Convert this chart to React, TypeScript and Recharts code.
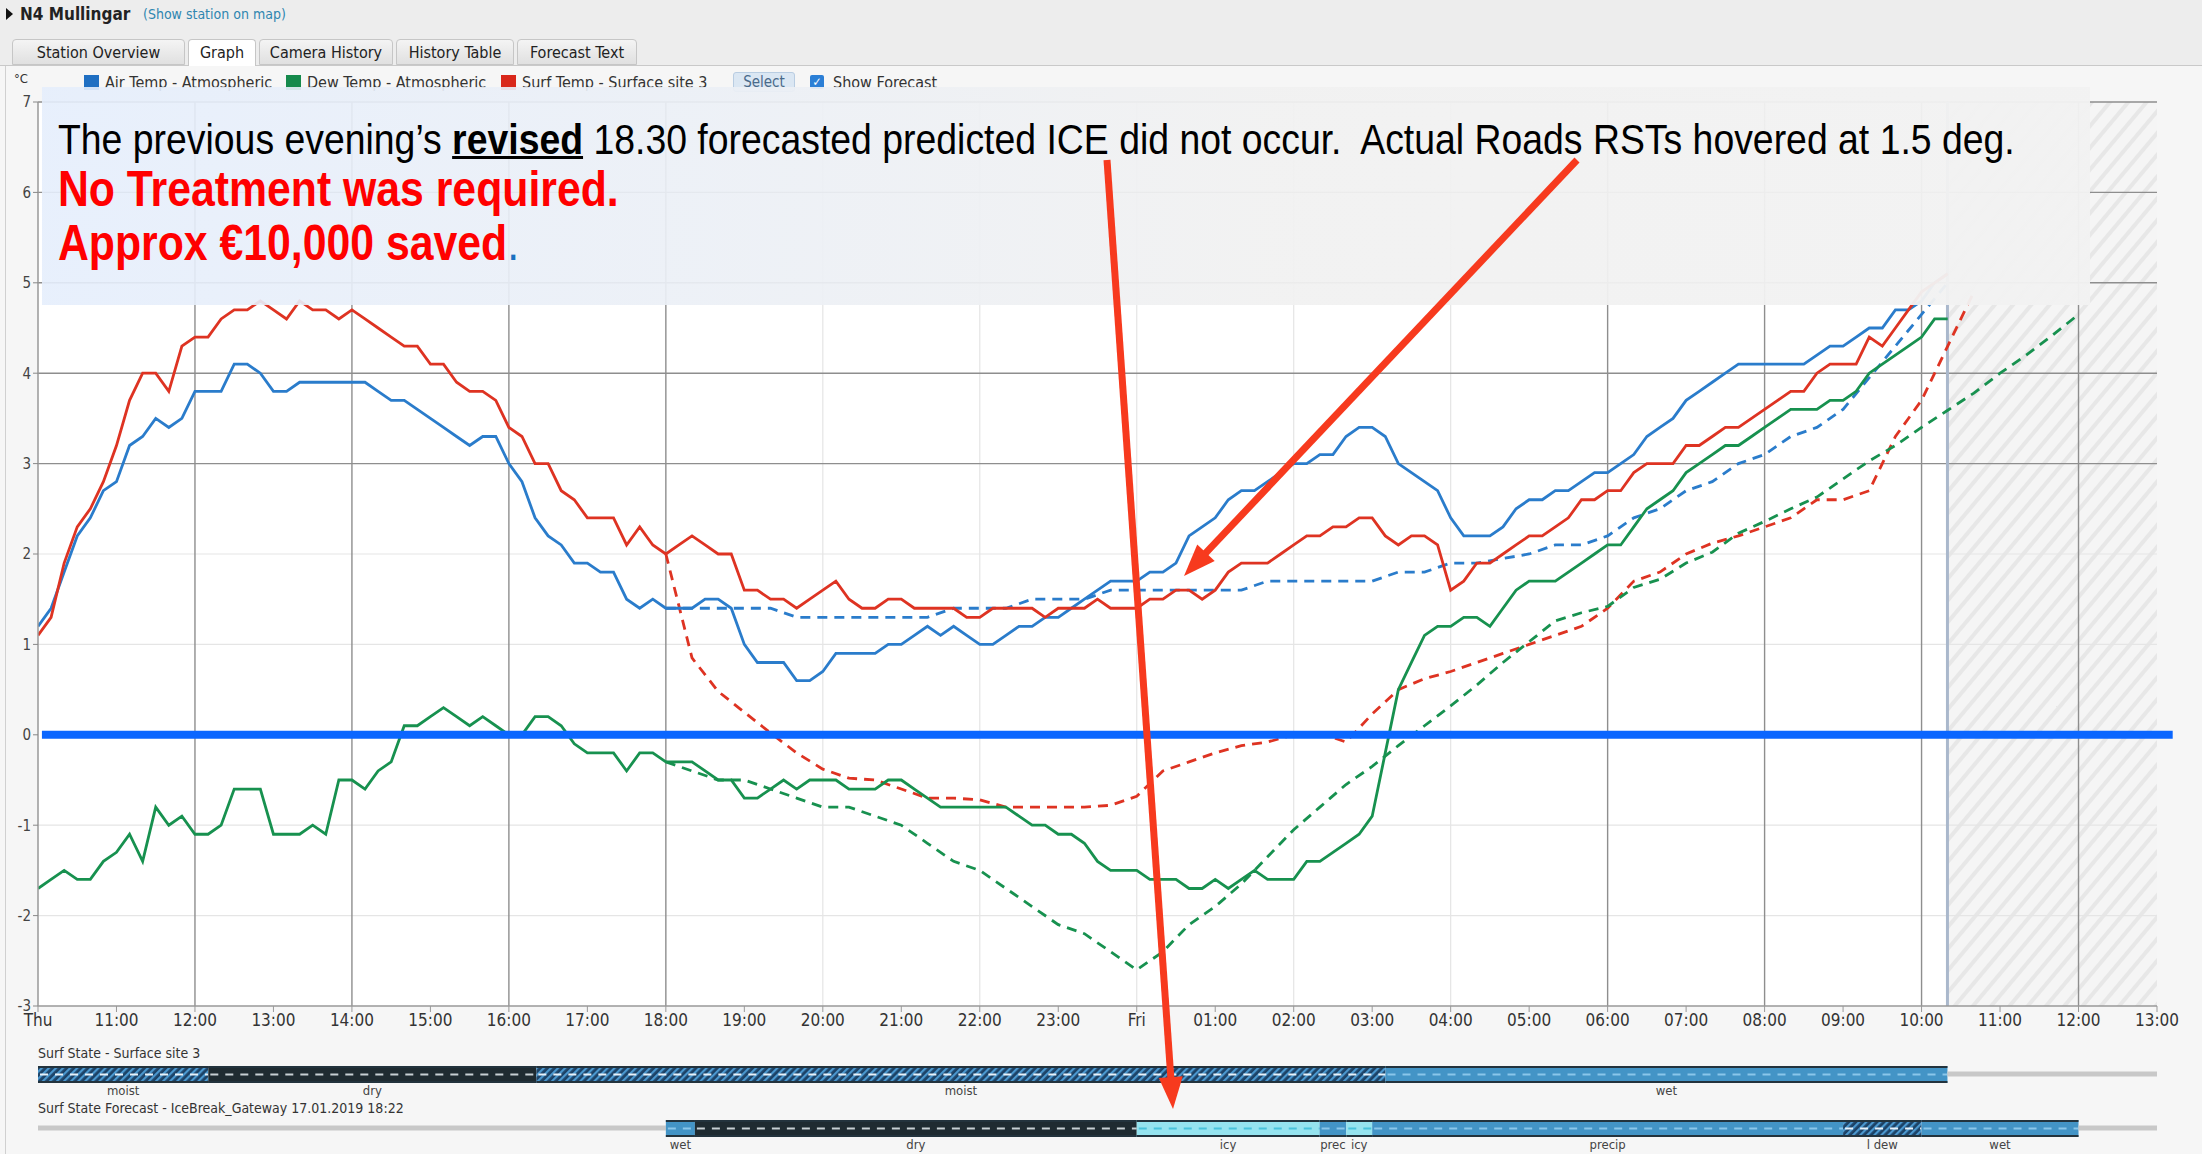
import React from 'react';
import {
  LineChart,
  Line,
  XAxis,
  YAxis,
  CartesianGrid,
  ReferenceLine,
  ReferenceArea,
  BarChart,
  Bar,
  LabelList,
} from 'recharts';

const W = 2202;
const H = 1154;
const UI_FONT = '"Liberation Sans Narrow", "DejaVu Sans Condensed", "Liberation Sans", Arial, sans-serif';
const NOTE_FONT = '"Liberation Sans", Arial, sans-serif';

const BLUE = '#2a7ccb';
const GREEN = '#17914f';
const RED = '#de3322';

// x axis: hours since Thu 10:00
const HOUR_LABELS = [
  'Thu', '11:00', '12:00', '13:00', '14:00', '15:00', '16:00', '17:00', '18:00', '19:00',
  '20:00', '21:00', '22:00', '23:00', 'Fri', '01:00', '02:00', '03:00', '04:00', '05:00',
  '06:00', '07:00', '08:00', '09:00', '10:00', '11:00', '12:00', '13:00',
];
const HOUR_TICKS = HOUR_LABELS.map((_, i) => i);
const Y_TICKS = [-3, -2, -1, 0, 1, 2, 3, 4, 5, 6, 7];
const DARK_V = [2, 4, 6, 8, 20, 22, 24, 26];
const LIGHT_V = [10, 12, 14, 16, 18];
const DARK_H = [3, 4, 5, 6, 7];
const LIGHT_H = [-2, -1, 1, 2];
const OBS_END = 24.33; // last observation 10:20 Fri

// observations every 10 min from Thu 10:00 to Fri 10:20
const AIR_TEMP = [
  1.2, 1.4, 1.8, 2.2, 2.4, 2.7,
  2.8, 3.2, 3.3, 3.5, 3.4, 3.5,
  3.8, 3.8, 3.8, 4.1, 4.1, 4.0,
  3.8, 3.8, 3.9, 3.9, 3.9, 3.9,
  3.9, 3.9, 3.8, 3.7, 3.7, 3.6,
  3.5, 3.4, 3.3, 3.2, 3.3, 3.3,
  3.0, 2.8, 2.4, 2.2, 2.1, 1.9,
  1.9, 1.8, 1.8, 1.5, 1.4, 1.5,
  1.4, 1.4, 1.4, 1.5, 1.5, 1.4,
  1.0, 0.8, 0.8, 0.8, 0.6, 0.6,
  0.7, 0.9, 0.9, 0.9, 0.9, 1.0,
  1.0, 1.1, 1.2, 1.1, 1.2, 1.1,
  1.0, 1.0, 1.1, 1.2, 1.2, 1.3,
  1.3, 1.4, 1.5, 1.6, 1.7, 1.7,
  1.7, 1.8, 1.8, 1.9, 2.2, 2.3,
  2.4, 2.6, 2.7, 2.7, 2.8, 2.9,
  3.0, 3.0, 3.1, 3.1, 3.3, 3.4,
  3.4, 3.3, 3.0, 2.9, 2.8, 2.7,
  2.4, 2.2, 2.2, 2.2, 2.3, 2.5,
  2.6, 2.6, 2.7, 2.7, 2.8, 2.9,
  2.9, 3.0, 3.1, 3.3, 3.4, 3.5,
  3.7, 3.8, 3.9, 4.0, 4.1, 4.1,
  4.1, 4.1, 4.1, 4.1, 4.2, 4.3,
  4.3, 4.4, 4.5, 4.5, 4.7, 4.7,
  4.8, 5.0, 5.1,
];

const DEW_TEMP = [
  -1.7, -1.6, -1.5, -1.6, -1.6, -1.4,
  -1.3, -1.1, -1.4, -0.8, -1.0, -0.9,
  -1.1, -1.1, -1.0, -0.6, -0.6, -0.6,
  -1.1, -1.1, -1.1, -1.0, -1.1, -0.5,
  -0.5, -0.6, -0.4, -0.3, 0.1, 0.1,
  0.2, 0.3, 0.2, 0.1, 0.2, 0.1,
  0.0, 0.0, 0.2, 0.2, 0.1, -0.1,
  -0.2, -0.2, -0.2, -0.4, -0.2, -0.2,
  -0.3, -0.3, -0.3, -0.4, -0.5, -0.5,
  -0.7, -0.7, -0.6, -0.5, -0.6, -0.5,
  -0.5, -0.5, -0.6, -0.6, -0.6, -0.5,
  -0.5, -0.6, -0.7, -0.8, -0.8, -0.8,
  -0.8, -0.8, -0.8, -0.9, -1.0, -1.0,
  -1.1, -1.1, -1.2, -1.4, -1.5, -1.5,
  -1.5, -1.6, -1.6, -1.6, -1.7, -1.7,
  -1.6, -1.7, -1.6, -1.5, -1.6, -1.6,
  -1.6, -1.4, -1.4, -1.3, -1.2, -1.1,
  -0.9, -0.2, 0.5, 0.8, 1.1, 1.2,
  1.2, 1.3, 1.3, 1.2, 1.4, 1.6,
  1.7, 1.7, 1.7, 1.8, 1.9, 2.0,
  2.1, 2.1, 2.3, 2.5, 2.6, 2.7,
  2.9, 3.0, 3.1, 3.2, 3.2, 3.3,
  3.4, 3.5, 3.6, 3.6, 3.6, 3.7,
  3.7, 3.8, 4.0, 4.1, 4.2, 4.3,
  4.4, 4.6, 4.6,
];

const SURF_TEMP = [
  1.1, 1.3, 1.9, 2.3, 2.5, 2.8,
  3.2, 3.7, 4.0, 4.0, 3.8, 4.3,
  4.4, 4.4, 4.6, 4.7, 4.7, 4.8,
  4.7, 4.6, 4.8, 4.7, 4.7, 4.6,
  4.7, 4.6, 4.5, 4.4, 4.3, 4.3,
  4.1, 4.1, 3.9, 3.8, 3.8, 3.7,
  3.4, 3.3, 3.0, 3.0, 2.7, 2.6,
  2.4, 2.4, 2.4, 2.1, 2.3, 2.1,
  2.0, 2.1, 2.2, 2.1, 2.0, 2.0,
  1.6, 1.6, 1.5, 1.5, 1.4, 1.5,
  1.6, 1.7, 1.5, 1.4, 1.4, 1.5,
  1.5, 1.4, 1.4, 1.4, 1.4, 1.3,
  1.3, 1.4, 1.4, 1.4, 1.4, 1.3,
  1.4, 1.4, 1.4, 1.5, 1.4, 1.4,
  1.4, 1.5, 1.5, 1.6, 1.6, 1.5,
  1.6, 1.8, 1.9, 1.9, 1.9, 2.0,
  2.1, 2.2, 2.2, 2.3, 2.3, 2.4,
  2.4, 2.2, 2.1, 2.2, 2.2, 2.1,
  1.6, 1.7, 1.9, 1.9, 2.0, 2.1,
  2.2, 2.2, 2.3, 2.4, 2.6, 2.6,
  2.7, 2.7, 2.9, 3.0, 3.0, 3.0,
  3.2, 3.2, 3.3, 3.4, 3.4, 3.5,
  3.6, 3.7, 3.8, 3.8, 4.0, 4.1,
  4.1, 4.1, 4.4, 4.3, 4.5, 4.7,
  4.9, 5.0, 5.1,
];

// forecasts every 20 min from Thu 18:00
const AIR_FORECAST = [
  1.4, 1.4, 1.4, 1.4, 1.4, 1.3,
  1.3, 1.3, 1.3, 1.3, 1.3, 1.4,
  1.4, 1.4, 1.5, 1.5, 1.5, 1.6,
  1.6, 1.6, 1.6, 1.6, 1.6, 1.7,
  1.7, 1.7, 1.7, 1.7, 1.8, 1.8,
  1.9, 1.9, 1.95, 2.0, 2.1, 2.1,
  2.2, 2.4, 2.5, 2.7, 2.8, 3.0,
  3.1, 3.3, 3.4, 3.6, 3.95, 4.3,
  4.65, 5.0,
];

const DEW_FORECAST = [
  -0.3, -0.4, -0.5, -0.5, -0.6, -0.7,
  -0.8, -0.8, -0.9, -1.0, -1.2, -1.4,
  -1.5, -1.7, -1.9, -2.1, -2.2, -2.4,
  -2.6, -2.4, -2.1, -1.9, -1.65, -1.35,
  -1.05, -0.8, -0.55, -0.35, -0.12, 0.1,
  0.32, 0.55, 0.8, 1.03, 1.26, 1.35,
  1.42, 1.63, 1.72, 1.9, 2.02, 2.23,
  2.36, 2.5, 2.63, 2.83, 3.03, 3.2,
  3.4, 3.59, 3.78, 4.0, 4.2, 4.42,
  4.65,
];

const SURF_FORECAST = [
  2.0, 0.85, 0.48, 0.25, 0.02, -0.2,
  -0.38, -0.48, -0.5, -0.6, -0.7, -0.7,
  -0.72, -0.8, -0.8, -0.8, -0.8, -0.78,
  -0.68, -0.4, -0.3, -0.2, -0.12, -0.08,
  0.0, 0.02, -0.08, 0.23, 0.5, 0.62,
  0.7, 0.8, 0.9, 1.0, 1.1, 1.2,
  1.4, 1.7, 1.8, 2.0, 2.12, 2.2,
  2.3, 2.4, 2.6, 2.6, 2.7, 3.3,
  3.7, 4.3, 4.9,
];

// surface state strips: change times (hours since Thu 10:00) and states
const SURF_STATE_BREAKS = [0, 2.17, 6.35, 17.17, 24.33, 27];
const SURF_STATE_KINDS = ['moist', 'dry', 'moist', 'wet', 'none'];
const SURF_STATE_LABELS = ['moist', 'dry', 'moist', 'wet', ''];

const FC_STATE_BREAKS = [0, 8, 8.37, 14, 16.33, 16.67, 17, 23, 24, 26, 27];
const FC_STATE_KINDS = ['none', 'wet', 'dry', 'icy', 'wet', 'icy', 'wet', 'dew', 'wet', 'none'];
const FC_STATE_LABELS = ['', 'wet', 'dry', 'icy', 'prec', 'icy', 'precip', 'l dew', 'wet', ''];

const LEGEND = [
  { label: 'Air Temp - Atmospheric', color: '#1f6fc2' },
  { label: 'Dew Temp - Atmospheric', color: '#168a4c' },
  { label: 'Surf Temp - Surface site 3', color: '#d9271a' },
];
const LEGEND_LEFT = [84, 286, 501];
const TABS = ['Station Overview', 'Graph', 'Camera History', 'History Table', 'Forecast Text'];
const TAB_WIDTHS = [173, 68, 134, 118, 120];

type Row = { h: number; [k: string]: number };
const rowMap = new Map<number, Row>();
const getRow = (k: number) => {
  if (!rowMap.has(k)) rowMap.set(k, { h: k / 6 });
  return rowMap.get(k)!;
};
AIR_TEMP.forEach((v, i) => (getRow(i).air = v));
DEW_TEMP.forEach((v, i) => (getRow(i).dew = v));
SURF_TEMP.forEach((v, i) => (getRow(i).surf = v));
AIR_FORECAST.forEach((v, j) => (getRow(48 + 2 * j).airFc = v));
DEW_FORECAST.forEach((v, j) => (getRow(48 + 2 * j).dewFc = v));
SURF_FORECAST.forEach((v, j) => (getRow(48 + 2 * j).surfFc = v));
const chartData = Array.from(rowMap.values()).sort((a, b) => a.h - b.h);

const STATE_STYLE: Record<string, { fill: string; dash: string }> = {
  wet: { fill: '#4394c6', dash: '#8ac6ea' },
  moist: { fill: 'url(#stateHatch)', dash: '#e8f2fa' },
  dew: { fill: 'url(#stateHatch)', dash: '#e8f2fa' },
  dry: { fill: '#1f2b31', dash: '#c7cfd3' },
  icy: { fill: '#95e3ef', dash: '#49c3dc' },
};

function StateShape(props: any) {
  const { x, y, width, height, kind } = props;
  if (!width || width <= 0) return null;
  if (kind === 'none') {
    return <rect x={x} y={y + height / 2 - 3} width={width} height={5} fill="#c8c8c8" />;
  }
  const s = STATE_STYLE[kind];
  return (
    <g>
      <rect x={x} y={y} width={width} height={height} fill={s.fill} />
      <line x1={x + 2} x2={x + width} y1={y + height / 2} y2={y + height / 2} stroke={s.dash} strokeWidth={2} strokeDasharray="8 7" />
      <line x1={x} x2={x + width} y1={y + 1} y2={y + 1} stroke="#23333d" strokeWidth={2} />
      <line x1={x} x2={x + width} y1={y + height - 1} y2={y + height - 1} stroke="#23333d" strokeWidth={2} />
    </g>
  );
}

function StateStrip({ breaks, kinds, labels, top }: { breaks: number[]; kinds: string[]; labels: string[]; top: number }) {
  const row: Record<string, any> = { name: 'state' };
  kinds.forEach((_, i) => (row['s' + i] = breaks[i + 1] - breaks[i]));
  return (
    <div style={{ position: 'absolute', left: 0, top }}>
      <BarChart
        width={W}
        height={43}
        data={[row]}
        layout="vertical"
        margin={{ top: 0, right: 45, bottom: 26, left: 38 }}
        barCategoryGap={0}
      >
        <XAxis type="number" domain={[0, 27]} hide />
        <YAxis type="category" dataKey="name" hide />
        {kinds.map((k, i) => (
          <Bar
            key={i}
            dataKey={'s' + i}
            stackId="a"
            isAnimationActive={false}
            shape={(p: any) => <StateShape {...p} kind={k} />}
          >
            <LabelList
              position="bottom"
              offset={3}
              formatter={() => labels[i]}
              fill="#444"
              fontSize={13}
              fontFamily={UI_FONT}
            />
          </Bar>
        ))}
      </BarChart>
    </div>
  );
}

function Arrow({ x1, y1, x2, y2 }: { x1: number; y1: number; x2: number; y2: number }) {
  const dx = x2 - x1;
  const dy = y2 - y1;
  const len = Math.sqrt(dx * dx + dy * dy);
  const ux = dx / len;
  const uy = dy / len;
  const hl = 32;
  const hw = 12;
  const bx = x2 - ux * hl;
  const by = y2 - uy * hl;
  const pts = `${x2},${y2} ${bx - uy * hw},${by + ux * hw} ${bx + uy * hw},${by - ux * hw}`;
  return (
    <g>
      <line x1={x1} y1={y1} x2={bx + ux * 4} y2={by + uy * 4} stroke="#f73a1e" strokeWidth={7} />
      <polygon points={pts} fill="#f73a1e" />
    </g>
  );
}

export default function App() {
  return (
    <div
      style={{
        position: 'fixed',
        left: 0,
        top: 0,
        width: W,
        height: H,
        background: '#f6f6f6',
        overflow: 'hidden',
        fontFamily: UI_FONT,
        color: '#222',
      }}
    >
      <svg width={0} height={0} style={{ position: 'absolute' }}>
        <defs>
          <pattern id="futureHatch" patternUnits="userSpaceOnUse" width="14" height="14" patternTransform="rotate(40)">
            <rect width="14" height="14" fill="#f5f5f5" />
            <rect width="4" height="14" fill="#e7e7e7" />
          </pattern>
          <pattern id="stateHatch" patternUnits="userSpaceOnUse" width="5" height="5" patternTransform="rotate(45)">
            <rect width="5" height="5" fill="#1c4266" />
            <rect width="2.2" height="5" fill="#4b98cf" />
          </pattern>
        </defs>
      </svg>

      {/* header */}
      <div style={{ position: 'absolute', left: 0, top: 0, width: W, height: 66, background: '#ededed' }} />
      <svg style={{ position: 'absolute', left: 6, top: 8 }} width={8} height={12}>
        <polygon points="0,0 7,6 0,12" fill="#111" />
      </svg>
      <div style={{ position: 'absolute', left: 20, top: 4, fontSize: 17, fontWeight: 'bold' }}>N4 Mullingar</div>
      <div style={{ position: 'absolute', left: 143, top: 6, fontSize: 14, color: '#2f86b0' }}>(Show station on map)</div>

      {/* tabs */}
      <div style={{ position: 'absolute', left: 0, top: 65, width: W, height: 1, background: '#c9c9c9' }} />
      <div style={{ position: 'absolute', left: 12, top: 39, display: 'flex', gap: 3 }}>
        {TABS.map((t, i) => (
          <div
            key={t}
            style={{
              width: TAB_WIDTHS[i],
              height: i === 1 ? 27 : 26,
              boxSizing: 'border-box',
              border: '1px solid #c6c6c6',
              borderBottom: i === 1 ? 'none' : '1px solid #c6c6c6',
              borderRadius: '4px 4px 0 0',
              background: i === 1 ? '#ffffff' : 'linear-gradient(#f4f4f4, #e0e0e0)',
              fontSize: 16,
              lineHeight: '25px',
              textAlign: 'center',
              color: '#222',
            }}
          >
            {t}
          </div>
        ))}
      </div>
      <div style={{ position: 'absolute', left: 5, top: 66, width: 1, height: H - 66, background: '#d0d0d0' }} />

      {/* legend row */}
      <div style={{ position: 'absolute', left: 14, top: 71, fontSize: 13, color: '#333' }}>°C</div>
      {LEGEND.map((l, i) => (
        <div key={l.label} style={{ position: 'absolute', left: LEGEND_LEFT[i], top: 73, display: 'flex', alignItems: 'center' }}>
          <div style={{ width: 15, height: 15, background: l.color, marginRight: 6 }} />
          <div style={{ fontSize: 16, color: '#333' }}>{l.label}</div>
        </div>
      ))}
      <div
        style={{
          position: 'absolute',
          left: 733,
          top: 72,
          width: 62,
          height: 20,
          boxSizing: 'border-box',
          fontSize: 15,
          lineHeight: '18px',
          textAlign: 'center',
          color: '#4a6a8a',
          background: '#dbe7f3',
          border: '1px solid #b9cde2',
          borderRadius: 3,
        }}
      >
        Select
      </div>
      <div
        style={{
          position: 'absolute',
          left: 810,
          top: 75,
          width: 14,
          height: 14,
          background: '#2b7fd6',
          borderRadius: 2,
          color: '#fff',
          fontSize: 12,
          lineHeight: '14px',
          textAlign: 'center',
        }}
      >
        ✓
      </div>
      <div style={{ position: 'absolute', left: 833, top: 73, fontSize: 16, color: '#333' }}>Show Forecast</div>

      {/* main chart */}
      <div style={{ position: 'absolute', left: 0, top: 0 }}>
        <LineChart width={W} height={1040} data={chartData} margin={{ top: 102, right: 45, bottom: 0, left: 0 }}>
          <CartesianGrid horizontal={false} vertical={false} fill="#ffffff" />
          <ReferenceArea x1={OBS_END} x2={27} y1={-3} y2={7} fill="url(#futureHatch)" fillOpacity={1} strokeOpacity={0} />
          {LIGHT_H.map((v) => (
            <ReferenceLine key={'lh' + v} y={v} stroke="#e5e5e5" strokeWidth={1.2} />
          ))}
          {LIGHT_V.map((v) => (
            <ReferenceLine key={'lv' + v} x={v} stroke="#e5e5e5" strokeWidth={1.2} />
          ))}
          {DARK_H.map((v) => (
            <ReferenceLine key={'dh' + v} y={v} stroke="#8e8e8e" strokeWidth={1.4} />
          ))}
          {DARK_V.map((v) => (
            <ReferenceLine key={'dv' + v} x={v} stroke="#8e8e8e" strokeWidth={1.4} />
          ))}
          <ReferenceLine x={OBS_END} stroke="#aab8cc" strokeWidth={3} />
          <XAxis
            type="number"
            dataKey="h"
            domain={[0, 27]}
            ticks={HOUR_TICKS}
            interval={0}
            tickFormatter={(v: number) => HOUR_LABELS[v]}
            tick={{ fontSize: 17, fill: '#333', fontFamily: UI_FONT }}
            tickSize={6}
            tickLine={{ stroke: '#999' }}
            axisLine={{ stroke: '#999', strokeWidth: 1.5 }}
            height={34}
            allowDataOverflow
          />
          <YAxis
            domain={[-3, 7]}
            ticks={Y_TICKS}
            interval={0}
            width={38}
            tick={{ fontSize: 15, fill: '#444', fontFamily: UI_FONT }}
            tickSize={5}
            tickLine={{ stroke: '#888' }}
            axisLine={{ stroke: '#999', strokeWidth: 1.5 }}
            allowDataOverflow
          />
          <Line type="linear" dataKey="surfFc" stroke={RED} strokeWidth={2.8} strokeDasharray="10 7" dot={false} connectNulls isAnimationActive={false} />
          <Line type="linear" dataKey="dewFc" stroke={GREEN} strokeWidth={2.8} strokeDasharray="10 7" dot={false} connectNulls isAnimationActive={false} />
          <Line type="linear" dataKey="airFc" stroke={BLUE} strokeWidth={2.8} strokeDasharray="10 7" dot={false} connectNulls isAnimationActive={false} />
          <Line type="linear" dataKey="dew" stroke={GREEN} strokeWidth={2.8} dot={false} isAnimationActive={false} />
          <Line type="linear" dataKey="air" stroke={BLUE} strokeWidth={2.8} dot={false} isAnimationActive={false} />
          <Line type="linear" dataKey="surf" stroke={RED} strokeWidth={2.8} dot={false} isAnimationActive={false} />
          <ReferenceLine
            segment={[{ x: 0.05, y: 0 }, { x: 27.2, y: 0 }]}
            stroke="#0a66ff"
            strokeWidth={8}
            ifOverflow="visible"
          />
        </LineChart>
      </div>

      {/* state strips */}
      <div style={{ position: 'absolute', left: 38, top: 1045, fontSize: 14, color: '#333' }}>Surf State - Surface site 3</div>
      <StateStrip breaks={SURF_STATE_BREAKS} kinds={SURF_STATE_KINDS} labels={SURF_STATE_LABELS} top={1066} />
      <div style={{ position: 'absolute', left: 38, top: 1100, fontSize: 14, color: '#333' }}>
        Surf State Forecast - IceBreak_Gateway 17.01.2019 18:22
      </div>
      <StateStrip breaks={FC_STATE_BREAKS} kinds={FC_STATE_KINDS} labels={FC_STATE_LABELS} top={1120} />

      {/* annotation box */}
      <div
        style={{
          position: 'absolute',
          left: 42,
          top: 87,
          width: 2048,
          height: 218,
          background: 'linear-gradient(to right, rgba(229,238,252,0.9), rgba(241,241,241,0.94) 60%, rgba(242,242,242,0.96))',
        }}
      />
      <div
        style={{
          position: 'absolute',
          left: 58,
          top: 119,
          fontFamily: NOTE_FONT,
          fontSize: 42,
          lineHeight: 1,
          color: '#000',
          whiteSpace: 'pre',
          transform: 'scaleX(0.89)',
          transformOrigin: '0 0',
        }}
      >
        The previous evening’s{' '}
        <span style={{ fontWeight: 'bold', textDecoration: 'underline', textDecorationThickness: 3 }}>revised</span>
        {' 18.30 forecasted predicted ICE did not occur.  Actual Roads RSTs hovered at 1.5 deg.'}
      </div>
      <div
        style={{
          position: 'absolute',
          left: 58,
          top: 164,
          fontFamily: NOTE_FONT,
          fontSize: 50,
          lineHeight: 1,
          fontWeight: 'bold',
          color: '#ff0000',
          whiteSpace: 'pre',
          transform: 'scaleX(0.855)',
          transformOrigin: '0 0',
        }}
      >
        No Treatment was required.
      </div>
      <div
        style={{
          position: 'absolute',
          left: 58,
          top: 218,
          fontFamily: NOTE_FONT,
          fontSize: 50,
          lineHeight: 1,
          fontWeight: 'bold',
          color: '#ff0000',
          whiteSpace: 'pre',
          transform: 'scaleX(0.855)',
          transformOrigin: '0 0',
        }}
      >
        Approx €10,000 saved<span style={{ color: '#1a6fc0', fontWeight: 'normal' }}>.</span>
      </div>

      {/* arrows */}
      <svg style={{ position: 'absolute', left: 0, top: 0, pointerEvents: 'none' }} width={W} height={H}>
        <Arrow x1={1107} y1={160} x2={1173} y2={1109} />
        <Arrow x1={1577} y1={160} x2={1184} y2={576} />
      </svg>
    </div>
  );
}
